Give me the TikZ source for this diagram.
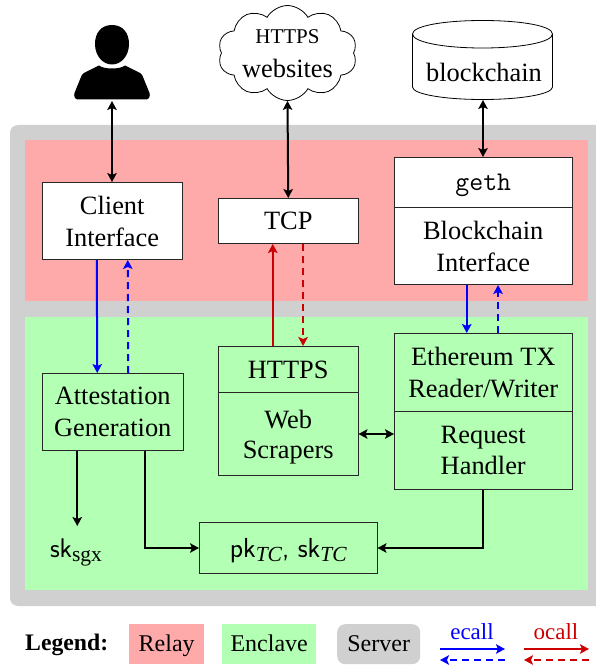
\documentclass[tikz,border=0pt]{standalone}
\usepackage{fontspec}
\setmainfont{Liberation Serif}
\usetikzlibrary{arrows.meta,shapes.geometric,shapes.symbols,calc}
\definecolor{relay}{RGB}{255,170,170}
\definecolor{encl}{RGB}{179,255,179}
\definecolor{srv}{RGB}{208,208,208}
\definecolor{ored}{RGB}{204,0,0}
\newcommand{\fsz}[1]{\fontsize{#1}{1.2\dimexpr #1pt\relax}\selectfont}
\newcommand{\lowsub}[1]{\raisebox{-4pt}{\fontsize{21.5}{23}\selectfont #1}}
\tikzset{
  x=1pt,y=-1pt,
  >={Stealth[inset=2pt,length=9pt,width=9.5pt]},
  txt/.style={font=\fsz{26.4},align=center,inner sep=0pt,text depth=0pt},
  whitebox/.style={txt,draw=black!85,fill=white,line width=1pt,minimum width=#1,anchor=north west},
  greenbox/.style={txt,draw=black!85,line width=1pt,minimum width=#1,anchor=north west},
  conn/.style={line width=2pt},
  blueconn/.style={conn,blue},
  redconn/.style={conn,ored},
  dashline/.style={dash pattern=on 7pt off 5pt},
  legendbox/.style={txt,font=\fsz{24},anchor=north west,minimum height=40pt},
}
\begin{document}
\begin{tikzpicture}
\useasboundingbox (0,0) rectangle (596,666);
% regions
\fill[srv,rounded corners=8pt] (10,125) rectangle (620,606);
\fill[white] (596,100) rectangle (630,620);
\fill[relay] (25,140) rectangle (588,301);
\fill[encl] (25,317) rectangle (588,590);

% user silhouette
\fill[black] (112,25)
  .. controls (101,25) and (95,33) .. (95,44)
  .. controls (95,56) and (103,64.5) .. (112,64.5)
  .. controls (121,64.5) and (129,56) .. (129,44)
  .. controls (129,33) and (123,25) .. (112,25) -- cycle;
\fill[black] (99,65.5) .. controls (104,69.5) and (120,69.5) .. (125,65.5)
  -- (140,73) .. controls (142,74) and (142,75) .. (143,77)
  -- (149.5,93) .. controls (150.5,96) and (149,99.5) .. (146,99.5)
  -- (78,99.5) .. controls (75,99.5) and (73.5,96) .. (74.5,93)
  -- (81,77) .. controls (82,75) and (82,74) .. (84,73) -- cycle;
\coordinate (user) at (112,101);

% cloud and cylinder
\node[cloud,draw=black,line width=0.8pt,fill=white,cloud puffs=10,cloud puff arc=120,aspect=1.5,
  minimum width=139pt,minimum height=95pt,inner sep=0pt] (web) at (287.5,53) {};
\node[txt,font=\fsz{21}] (webA) at (287.5,37) {HTTPS};
\node[txt] (webB) at (287.5,68) {websites};
\draw[line width=0.8pt,fill=white] (412.5,34) -- (412.5,87)
  .. controls (412.5,94) and (443,99.5) .. (482.5,99.5)
  .. controls (522,99.5) and (552.5,94) .. (552.5,87) -- (552.5,34);
\draw[line width=0.8pt] (482.5,20.5) .. controls (443,20.5) and (412.5,26) .. (412.5,34)
  .. controls (412.5,42) and (443,48) .. (482.5,48)
  .. controls (522,48) and (552.5,42) .. (552.5,34)
  .. controls (552.5,26) and (522,20.5) .. (482.5,20.5) -- cycle;
\node[txt] (chain) at (484,72) {blockchain};
\coordinate (chainS) at (483,100);

% boxes
\node[whitebox=139.5pt,minimum height=77pt] (client) at (42,182) {Client\\Interface};
\node[whitebox=139.5pt,minimum height=45pt] (tcp) at (218,198) {TCP};
\node[whitebox=177.5pt,minimum height=50pt] (geth) at (394,157) {\ttfamily\fsz{27}geth};
\node[whitebox=177.5pt,minimum height=77pt] (bci) at (394,207) {Blockchain\\Interface};
\node[greenbox=177.5pt,minimum height=78pt] (eth) at (394,333) {Ethereum TX\\Reader/Writer};
\node[greenbox=177.5pt,minimum height=78pt] (req) at (394,411) {Request\\Handler};
\node[greenbox=139.5pt,minimum height=46pt] (https) at (218,346) {HTTPS};
\node[greenbox=139.5pt,minimum height=83pt] (scr) at (218,392) {Web\\[-2pt]Scrapers};
\node[greenbox=140.5pt,minimum height=77pt] (att) at (42,373) {Attestation\\Generation};
\node[greenbox=177.5pt,minimum height=51pt] (pk) at (199,522) {\sffamily\fsz{27.5}pk\lowsub{\rmfamily\itshape TC}, sk\lowsub{\rmfamily\itshape TC}};
\node[txt] (sk) at (76,548) {\sffamily\fsz{27}sk\lowsub{\rmfamily sgx}};

% connectors
\draw[conn,<->] (user) -- (client.north -| user);
\draw[conn,<->] (web.south) -- (tcp.north);
\draw[conn,<->] (chainS) -- (geth.north -| chainS);
\draw[blueconn,->] ([xshift=-15.5pt]client.south) -- ([xshift=-15.5pt]att.north);
\draw[blueconn,dashline,->] ([xshift=15.5pt]att.north) -- ([xshift=15.5pt]client.south);
\draw[redconn,->] ([xshift=-15.5pt]https.north) -- ([xshift=-15.5pt]tcp.south);
\draw[redconn,dashline,->] ([xshift=14.8pt]tcp.south) -- ([xshift=14.8pt]https.north);
\draw[blueconn,->] ([xshift=-16.5pt]bci.south) -- ([xshift=-16.5pt]eth.north);
\draw[blueconn,dashline,->] ([xshift=14.8pt]eth.north) -- ([xshift=14.8pt]bci.south);
\draw[conn,<->] (scr.east) -- (scr.east -| req.west);
\draw[conn,->] ([xshift=-35.5pt]att.south) -- ([xshift=-35.5pt,yshift=-75pt]att.south);
\draw[conn,->] ([xshift=32.5pt]att.south) |- (pk.west);
\draw[conn,->] (req.south) |- (pk.east);

% legend
\node[txt,font=\fsz{23.7}\bfseries,anchor=west] (lg) at (25,642) {Legend:};
\node[legendbox,fill=relay,minimum width=75pt] (lr) at (129,624) {\raisebox{1.5pt}{Relay}};
\node[legendbox,fill=encl,minimum width=94pt] (le) at (222,624) {\raisebox{1.5pt}{Enclave}};
\node[legendbox,fill=srv,rounded corners=8pt,minimum width=83pt] (ls) at (337,624) {\raisebox{1.5pt}{Server}};
\node[txt,font=\fsz{23},text=blue] (ec) at (472,632) {ecall};
\node[txt,font=\fsz{23},text=ored] (oc) at (556,632) {ocall};
\coordinate (ecA) at (440,649); \coordinate (ecB) at (505,649);
\coordinate (ecC) at (440,660); \coordinate (ecD) at (505,660);
\coordinate (ocA) at (524,649); \coordinate (ocB) at (589,649);
\coordinate (ocC) at (524,660); \coordinate (ocD) at (589,660);
\draw[blueconn,->] (ecA) -- (ecB);
\draw[blueconn,dashline,->] (ecD) -- (ecC);
\draw[redconn,->] (ocA) -- (ocB);
\draw[redconn,dashline,->] (ocD) -- (ocC);
\end{tikzpicture}
\end{document}
